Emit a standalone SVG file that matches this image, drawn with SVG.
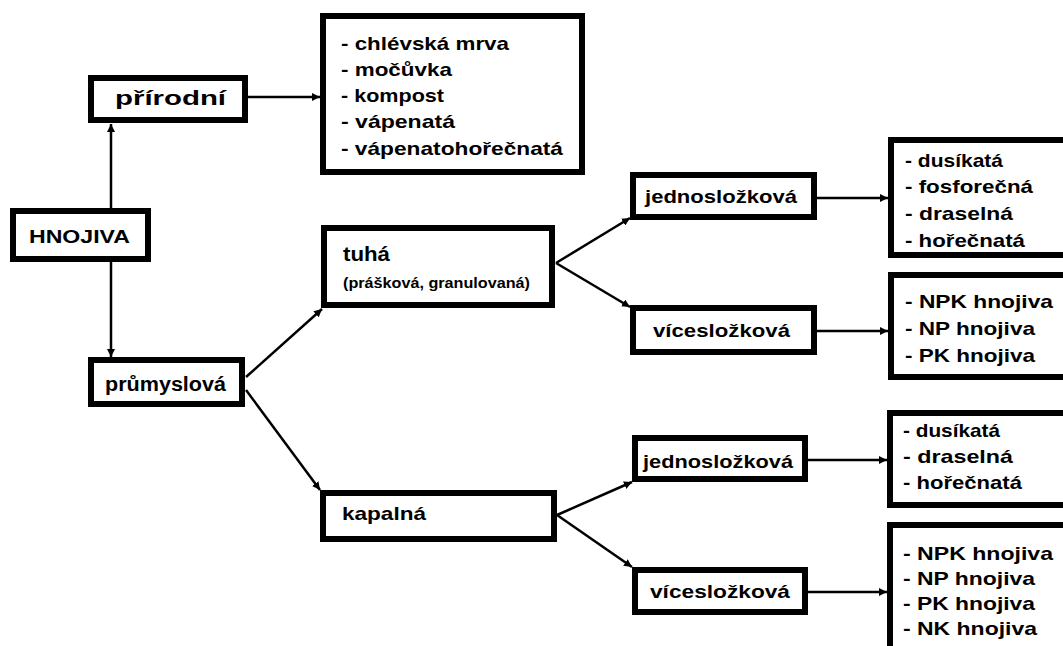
<svg xmlns="http://www.w3.org/2000/svg" width="1063" height="646" viewBox="0 0 1063 646">
<style>
.box{fill:#fff;stroke:#000;stroke-width:6}
.t{font-family:"Liberation Sans",Arial,sans-serif;font-weight:bold;font-size:20px;fill:#000}
.l{font-size:19px}
.s{font-size:14px}
.c{fill:none;stroke:#000;stroke-width:2.5}
</style>
<defs>
<marker id="a" viewBox="0 0 8 8" refX="8" refY="4" markerWidth="8" markerHeight="8" markerUnits="userSpaceOnUse" orient="auto">
<path d="M0,0 L8,4 L0,8 z" fill="#000"/>
</marker>
</defs>
<rect width="1063" height="646" fill="#fff"/>
<g id="connectors">
<line class="c" x1="111" y1="208" x2="111" y2="124" marker-end="url(#a)"/>
<line class="c" x1="111" y1="262" x2="111" y2="357" marker-end="url(#a)"/>
<line class="c" x1="248" y1="97" x2="320" y2="97" marker-end="url(#a)"/>
<line class="c" x1="246" y1="377" x2="322" y2="309" marker-end="url(#a)"/>
<line class="c" x1="246" y1="390" x2="320" y2="490" marker-end="url(#a)"/>
<line class="c" x1="556" y1="263" x2="630" y2="218" marker-end="url(#a)"/>
<line class="c" x1="556" y1="263" x2="630" y2="307" marker-end="url(#a)"/>
<line class="c" x1="817" y1="198" x2="888" y2="198" marker-end="url(#a)"/>
<line class="c" x1="817" y1="331" x2="888" y2="331" marker-end="url(#a)"/>
<line class="c" x1="557" y1="515" x2="632" y2="482" marker-end="url(#a)"/>
<line class="c" x1="557" y1="515" x2="632" y2="567" marker-end="url(#a)"/>
<line class="c" x1="808" y1="460" x2="887" y2="460" marker-end="url(#a)"/>
<line class="c" x1="808" y1="592" x2="887" y2="592" marker-end="url(#a)"/>
</g>
<g id="hnojiva">
<rect class="box" x="13" y="211" width="135" height="48"/>
<text class="t l" x="29" y="243" textLength="101" lengthAdjust="spacingAndGlyphs">HNOJIVA</text>
</g>
<g id="prirodni">
<rect class="box" x="91" y="78" width="154" height="42"/>
<text class="t" x="115" y="105" textLength="111" lengthAdjust="spacingAndGlyphs">přírodní</text>
</g>
<g id="prirodni-list">
<rect class="box" x="323" y="16" width="259" height="156"/>
<text class="t l" x="341" y="50" textLength="168" lengthAdjust="spacingAndGlyphs">- chlévská mrva</text>
<text class="t l" x="341" y="76" textLength="111" lengthAdjust="spacingAndGlyphs">- močůvka</text>
<text class="t l" x="341" y="102" textLength="103" lengthAdjust="spacingAndGlyphs">- kompost</text>
<text class="t l" x="341" y="128" textLength="114" lengthAdjust="spacingAndGlyphs">- vápenatá</text>
<text class="t l" x="341" y="155" textLength="222" lengthAdjust="spacingAndGlyphs">- vápenatohořečnatá</text>
</g>
<g id="prumyslova">
<rect class="box" x="91" y="360" width="151" height="44"/>
<text class="t" x="105" y="391" textLength="121" lengthAdjust="spacingAndGlyphs">průmyslová</text>
</g>
<g id="tuha">
<rect class="box" x="324" y="228" width="228" height="77"/>
<text class="t" x="343" y="261" textLength="47" lengthAdjust="spacingAndGlyphs">tuhá</text>
<text class="t s" x="343" y="288" textLength="187" lengthAdjust="spacingAndGlyphs">(prášková, granulovaná)</text>
</g>
<g id="kapalna">
<rect class="box" x="323" y="493" width="231" height="46"/>
<text class="t l" x="342" y="520" textLength="84" lengthAdjust="spacingAndGlyphs">kapalná</text>
</g>
<g id="tuha-jedno">
<rect class="box" x="633" y="175" width="181" height="42"/>
<text class="t l" x="645" y="203" textLength="152" lengthAdjust="spacingAndGlyphs">jednosložková</text>
</g>
<g id="tuha-vice">
<rect class="box" x="633" y="308" width="181" height="44"/>
<text class="t l" x="653" y="337" textLength="137" lengthAdjust="spacingAndGlyphs">vícesložková</text>
</g>
<g id="kapalna-jedno">
<rect class="box" x="635" y="438" width="170" height="41"/>
<text class="t l" x="643" y="468" textLength="150" lengthAdjust="spacingAndGlyphs">jednosložková</text>
</g>
<g id="kapalna-vice">
<rect class="box" x="635" y="570" width="170" height="42"/>
<text class="t l" x="650" y="598" textLength="140" lengthAdjust="spacingAndGlyphs">vícesložková</text>
</g>
<g id="tuha-jedno-list">
<rect class="box" x="891" y="140" width="200" height="115"/>
<text class="t l" x="905" y="167" textLength="98" lengthAdjust="spacingAndGlyphs">- dusíkatá</text>
<text class="t l" x="905" y="193" textLength="128" lengthAdjust="spacingAndGlyphs">- fosforečná</text>
<text class="t l" x="905" y="220" textLength="108" lengthAdjust="spacingAndGlyphs">- draselná</text>
<text class="t l" x="905" y="247" textLength="120" lengthAdjust="spacingAndGlyphs">- hořečnatá</text>
</g>
<g id="tuha-vice-list">
<rect class="box" x="891" y="275" width="200" height="102"/>
<text class="t l" x="905" y="308" textLength="148" lengthAdjust="spacingAndGlyphs">- NPK hnojiva</text>
<text class="t l" x="905" y="335" textLength="130" lengthAdjust="spacingAndGlyphs">- NP hnojiva</text>
<text class="t l" x="905" y="362" textLength="130" lengthAdjust="spacingAndGlyphs">- PK hnojiva</text>
</g>
<g id="kapalna-jedno-list">
<rect class="box" x="890" y="413" width="200" height="92"/>
<text class="t l" x="903" y="437" textLength="97" lengthAdjust="spacingAndGlyphs">- dusíkatá</text>
<text class="t l" x="903" y="463" textLength="110" lengthAdjust="spacingAndGlyphs">- draselná</text>
<text class="t l" x="903" y="489" textLength="119" lengthAdjust="spacingAndGlyphs">- hořečnatá</text>
</g>
<g id="kapalna-vice-list">
<rect class="box" x="890" y="525" width="200" height="125"/>
<text class="t l" x="903" y="560" textLength="150" lengthAdjust="spacingAndGlyphs">- NPK hnojiva</text>
<text class="t l" x="903" y="585" textLength="132" lengthAdjust="spacingAndGlyphs">- NP hnojiva</text>
<text class="t l" x="903" y="610" textLength="132" lengthAdjust="spacingAndGlyphs">- PK hnojiva</text>
<text class="t l" x="903" y="635" textLength="134" lengthAdjust="spacingAndGlyphs">- NK hnojiva</text>
</g>
</svg>
